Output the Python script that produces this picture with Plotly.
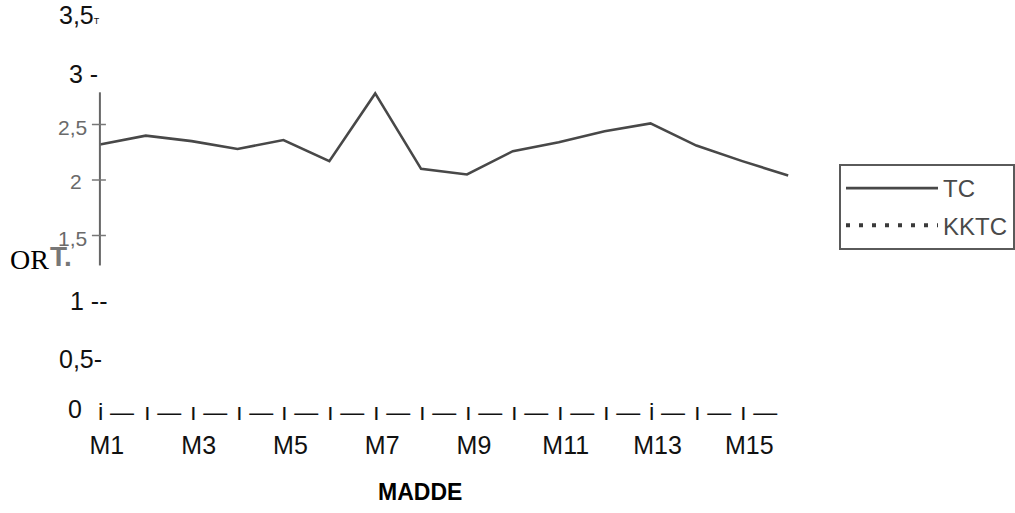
import plotly.graph_objects as go

categories = ["M1", "M2", "M3", "M4", "M5", "M6", "M7", "M8",
              "M9", "M10", "M11", "M12", "M13", "M14", "M15", "M16"]
tc_values = [2.32, 2.40, 2.35, 2.28, 2.36, 2.17, 2.78, 2.10,
             2.05, 2.26, 2.34, 2.44, 2.51, 2.31, 2.17, 2.04]
kktc_values = [None] * 16
x_tick_labels = ["M1", "M3", "M5", "M7", "M9", "M11", "M13", "M15"]
y_tick_values = [3.5, 3, 2.5, 2, 1.5, 1, 0.5, 0]
y_tick_texts = ["3,5<span style='font-size:9px'>T</span>", "3 -", "2,5", "2",
                "1,5", "1 --", "0,5-", "0"]
y_tick_gray = [False, False, True, True, True, False, False, False]
y_label_right_px = [102, 100, 89, 84, 89, 110, 104, 84]
y_label_shift = [-1, -5, -3, -1, -3, -10, -12, -7]
x_axis_marks = ["i —" if i in (0, 12) else "ı —" for i in range(15)]
legend_names = ["TC", "KKTC"]

W, H = 1015, 513
PX_PER_CAT = 45.93
X0_PX = 100
PX_PER_UNIT = 111
Y2_PX = 180

x_range = [-X0_PX / PX_PER_CAT, (W - X0_PX) / PX_PER_CAT]
y_range = [2 - (H - Y2_PX) / PX_PER_UNIT, 2 + Y2_PX / PX_PER_UNIT]

SANS = "Liberation Sans, Arial, sans-serif"
LINE_GRAY = "#484848"

fig = go.Figure()
fig.add_trace(go.Scatter(
    x=categories, y=tc_values, name=legend_names[0], mode="lines",
    line=dict(color=LINE_GRAY, width=2.6), legendgroup="a"))
fig.add_trace(go.Scatter(
    x=categories, y=kktc_values, name=legend_names[1], mode="lines",
    line=dict(color="#3a3a3a", width=4, dash="4px,9px"), legendgroup="b"))

annotations = []
for v, t, g, rpx, sh in zip(y_tick_values, y_tick_texts, y_tick_gray,
                            y_label_right_px, y_label_shift):
    annotations.append(dict(
        x=rpx / W, xref="paper", y=v, yref="y", yshift=sh,
        text=t, showarrow=False, xanchor="right", yanchor="middle",
        font=dict(family=SANS, size=21 if g else 25,
                  color="#6a6a6a" if g else "#111111")))

for i, m in enumerate(x_axis_marks):
    annotations.append(dict(
        x=i, xref="x", y=0, yref="y", yshift=-9, xshift=-4,
        text=m, showarrow=False, xanchor="left", yanchor="middle",
        font=dict(family=SANS, size=24, color="#111111")))

annotations.append(dict(
    x=420 / W, xref="paper", y=1 - 492 / H, yref="paper", text="<b>MADDE</b>",
    showarrow=False, xanchor="center", yanchor="middle",
    font=dict(family=SANS, size=23, color="#000000")))
annotations.append(dict(
    x=8 / W, xref="paper", y=1 - 259 / H, yref="paper", text="OR",
    showarrow=False, xanchor="left", yanchor="middle",
    font=dict(family="Liberation Serif, Times New Roman, serif", size=28,
              color="#000000")))
annotations.append(dict(
    x=48 / W, xref="paper", y=1 - 256 / H, yref="paper", text="<b>T.</b>",
    showarrow=False, xanchor="left", yanchor="middle",
    font=dict(family=SANS, size=28, color="#777777")))

shapes = [dict(type="line", xref="x", yref="y", x0=0, x1=0, y0=1.23, y1=2.79,
               line=dict(color="#666666", width=2))]
for v in [2.5, 2, 1.5]:
    shapes.append(dict(type="line", xref="x", yref="y", xsizemode="pixel",
                       xanchor=0, x0=-8, x1=6, y0=v, y1=v,
                       line=dict(color="#777777", width=1.5)))

fig.update_layout(
    width=W, height=H, margin=dict(l=0, r=0, t=0, b=0),
    paper_bgcolor="white", plot_bgcolor="white",
    xaxis=dict(type="category", categoryorder="array", categoryarray=categories,
               range=x_range, showgrid=False, zeroline=False, showline=False,
               tickmode="array", tickvals=x_tick_labels, ticktext=x_tick_labels,
               ticks="", anchor="free", position=1 - 428 / H, ticklabelshift=7,
               tickfont=dict(family=SANS, size=25, color="#111111")),
    yaxis=dict(range=y_range, visible=False),
    showlegend=True,
    legend=dict(x=840 / W, y=1 - 164 / H, xanchor="left", yanchor="top",
                bordercolor="#5a5a5a", borderwidth=2, bgcolor="white",
                itemwidth=92, tracegroupgap=3,
                font=dict(family=SANS, size=24, color="#4a4a4a")),
    annotations=annotations, shapes=shapes,
)

fig.write_html("out.html", config={"displayModeBar": False},
               post_script="document.body.style.margin='0';document.body.style.overflow='hidden';")
